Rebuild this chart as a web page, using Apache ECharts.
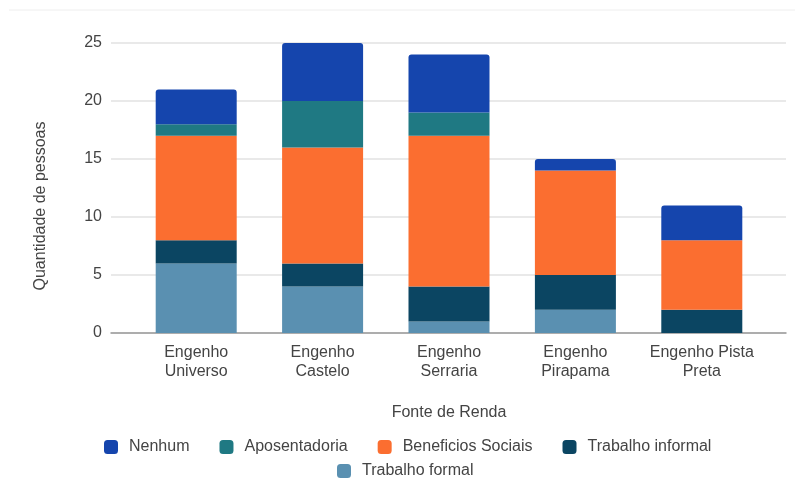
<!DOCTYPE html>
<html><head><meta charset="utf-8">
<script src="https://cdn.jsdelivr.net/npm/echarts@6/dist/echarts.min.js"></script>
<style>html,body{margin:0;padding:0;background:#fff}#c{width:795px;height:494px}</style>
</head><body><div id="c"></div>
<script>
const categories = ['Engenho\nUniverso', 'Engenho\nCastelo', 'Engenho\nSerraria', 'Engenho\nPirapama', 'Engenho Pista\nPreta'];
const trabalhoFormal = [6, 4, 1, 2, 0];
const trabalhoInformal = [2, 2, 3, 3, 2];
const beneficiosSociais = [9, 10, 13, 9, 6];
const aposentadoria = [1, 4, 2, 0, 0];
const nenhum = [3, 5, 5, 1, 3];
const yTicks = [0, 5, 10, 15, 20, 25];

const FONT = 'Liberation Sans, Arial, sans-serif';
const TXT = '#444';
const chart = echarts.init(document.getElementById('c'), null, {renderer: 'canvas'});
const colors = {
  'Nenhum': '#1545ad',
  'Aposentadoria': '#1f7983',
  'Beneficios Sociais': '#fb6e30',
  'Trabalho informal': '#0b4562',
  'Trabalho formal': '#5a90b1'
};
function s(name, data, top) {
  return {
    name, type: 'bar', stack: 'total', data, xAxisIndex: 1, yAxisIndex: 1,
    barWidth: 81,
    itemStyle: {color: colors[name], borderRadius: top ? [3, 3, 0, 0] : 0}
  };
}
const legendText = {color: TXT, fontSize: 16, fontFamily: FONT, padding: [0, 0, 0, 6]};
chart.setOption({
  animation: false,
  textStyle: {fontFamily: FONT},
  grid: [
    {left: 111, right: 9, top: 43, bottom: 161},
    {left: 133, right: 30, top: 43, bottom: 161}
  ],
  xAxis: [
    {gridIndex: 0, type: 'value', min: 0, max: 1, axisLabel: {show: false}, axisTick: {show: false},
     splitLine: {show: false}, axisLine: {show: true, lineStyle: {color: '#999', width: 1.5}}},
    {gridIndex: 1, type: 'category', data: categories, axisLine: {show: false}, axisTick: {show: false},
     axisLabel: {color: TXT, fontSize: 16, fontFamily: FONT, lineHeight: 19, margin: 10, interval: 0},
     name: 'Fonte de Renda', nameLocation: 'middle', nameGap: 72,
     nameTextStyle: {color: TXT, fontSize: 16, fontFamily: FONT}}
  ],
  yAxis: [
    {gridIndex: 0, type: 'value', min: yTicks[0], max: yTicks[yTicks.length - 1], interval: 5,
     axisLine: {show: false}, axisTick: {show: false},
     axisLabel: {color: TXT, fontSize: 16, fontFamily: FONT, margin: 9},
     splitLine: {lineStyle: {color: '#e2e2e2', width: 1.5}}},
    {gridIndex: 1, type: 'value', min: 0, max: 25, show: false, splitLine: {show: false}}
  ],
  legend: [
    {data: ['Nenhum', 'Aposentadoria', 'Beneficios Sociais', 'Trabalho informal'],
     left: 104, top: 439, padding: 0, itemWidth: 14, itemHeight: 14, itemGap: 30, icon: 'roundRect',
     textStyle: legendText},
    {data: ['Trabalho formal'], left: 337, top: 463, padding: 0, itemWidth: 14, itemHeight: 14, icon: 'roundRect',
     textStyle: legendText}
  ],
  graphic: [
    {type: 'line', shape: {x1: 9, y1: 10, x2: 795, y2: 10}, style: {stroke: '#eeeeee', lineWidth: 1}},
    {type: 'text', x: 41, y: 206, rotation: Math.PI / 2,
     style: {text: 'Quantidade de pessoas', fill: TXT, font: '16px ' + FONT, textAlign: 'center', textVerticalAlign: 'middle'}}
  ],
  series: [
    s('Trabalho formal', trabalhoFormal),
    s('Trabalho informal', trabalhoInformal),
    s('Beneficios Sociais', beneficiosSociais),
    s('Aposentadoria', aposentadoria),
    s('Nenhum', nenhum, true)
  ]
});
</script></body></html>
